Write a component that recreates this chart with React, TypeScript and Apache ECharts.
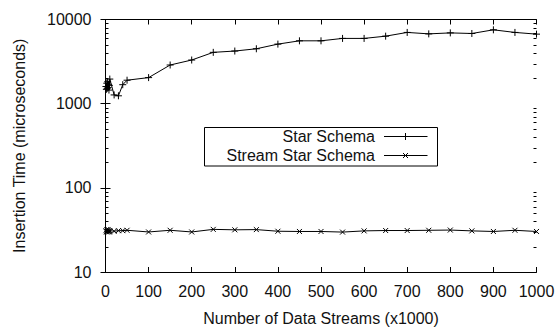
import React, { useEffect, useRef } from "react";
import * as echarts from "echarts";

const xValues = [1, 2, 3, 4, 5, 6, 7, 8, 9, 10, 20, 30, 40, 50, 100, 150, 200, 250, 300, 350, 400, 450, 500, 550, 600, 650, 700, 750, 800, 850, 900, 950, 1000];
const starSchema = [1600, 1480, 1750, 1520, 1820, 1560, 1700, 1450, 1650, 1960, 1270, 1240, 1680, 1900, 2040, 2880, 3300, 4070, 4220, 4490, 5100, 5580, 5580, 5960, 5960, 6340, 7020, 6750, 6930, 6820, 7540, 7020, 6700];
const streamStarSchema = [31, 30, 32, 30, 31, 32, 30, 31, 30, 31, 30.5, 31, 31, 31.3, 29.9, 31.3, 29.9, 32.1, 31.7, 31.9, 30.5, 30.3, 30.3, 29.8, 30.8, 31.1, 31.1, 31.3, 31.5, 30.8, 30.3, 31.3, 30.3];
const seriesNames = ["Star Schema", "Stream Star Schema"];
const minorTickValues = [20, 30, 40, 50, 60, 70, 80, 90, 200, 300, 400, 500, 600, 700, 800, 900, 2000, 3000, 4000, 5000, 6000, 7000, 8000, 9000];

const FONT = "'Liberation Sans', Arial, Helvetica, sans-serif";
const FS = 16;
const TXT = "#111";

const plusSymbol = "path://M0,5L10,5M5,0L5,10";
const crossSymbol = "path://M0,0L10,10M0,10L10,0";

export default function App() {
  const ref = useRef<HTMLDivElement>(null);
  useEffect(() => {
    if (!ref.current) return;
    const chart = echarts.init(ref.current, null, { renderer: "svg" });
    const axisLine = { show: true, lineStyle: { color: "#000", width: 1 } };
    const legendX = 204.5, legendY = 127.5, legendW = 233, legendH = 38.5;
    const row1 = 136, row2 = 155;
    const lx1 = 384, lx2 = 427.5, lmx = 405.5;
    const fmt = (v: number) => String(v);
    chart.setOption({
      animation: false,
      backgroundColor: "#fff",
      grid: { left: 105.5, right: 23.5, top: 19.5, bottom: 58.5 },
      xAxis: [
        {
          type: "value", min: 0, max: 1000, interval: 100, position: "bottom",
          name: "Number of Data Streams (x1000)", nameLocation: "middle", nameGap: 38,
          nameTextStyle: { fontFamily: FONT, fontSize: FS, color: TXT },
          axisLine, splitLine: { show: false },
          axisTick: { show: true, inside: true, length: 5, lineStyle: { color: "#000" } },
          axisLabel: { fontFamily: FONT, fontSize: FS, color: TXT, margin: 11, formatter: fmt },
        },
        {
          type: "value", min: 0, max: 1000, interval: 100, position: "top",
          axisLine, splitLine: { show: false },
          axisTick: { show: true, inside: true, length: 5, lineStyle: { color: "#000" } },
          axisLabel: { show: false },
        },
      ],
      yAxis: [
        {
          type: "log", logBase: 10, min: 10, max: 10000, position: "left",
          name: "Insertion Time (microseconds)", nameLocation: "middle", nameGap: 78,
          nameTextStyle: { fontFamily: FONT, fontSize: FS, color: TXT },
          axisLine, splitLine: { show: false },
          axisTick: { show: true, inside: true, length: 5, lineStyle: { color: "#000" } },
          axisLabel: { fontFamily: FONT, fontSize: FS, color: TXT, margin: 14, formatter: fmt },
        },
        {
          type: "log", logBase: 10, min: 10, max: 10000, position: "right",
          axisLine, splitLine: { show: false },
          axisTick: { show: true, inside: true, length: 5, lineStyle: { color: "#000" } },
          axisLabel: { show: false },
        },
      ],
      series: [
        {
          name: seriesNames[0], type: "line",
          data: xValues.map((x, i) => [x, starSchema[i]]),
          symbol: plusSymbol, symbolSize: 7, showAllSymbol: true,
          lineStyle: { color: "#000", width: 1 },
          itemStyle: { color: "#000", borderColor: "#000", borderWidth: 1 },
        },
        {
          name: seriesNames[1], type: "line",
          data: xValues.map((x, i) => [x, streamStarSchema[i]]),
          symbol: crossSymbol, symbolSize: 5, showAllSymbol: true,
          lineStyle: { color: "#000", width: 1 },
          itemStyle: { color: "#000", borderColor: "#000", borderWidth: 1 },
        },
        {
          type: "custom", silent: true, clip: false,
          data: minorTickValues.map((v) => [0, v]),
          encode: { x: 0, y: 1 },
          renderItem: (params: any, api: any) => {
            const p = api.coord([0, api.value(1)]);
            const cs = params.coordSys;
            const y = Math.round(p[1]) + 0.5;
            return {
              type: "group",
              children: [
                { type: "line", shape: { x1: cs.x, y1: y, x2: cs.x + 3, y2: y }, style: { stroke: "#000", lineWidth: 1 } },
                { type: "line", shape: { x1: cs.x + cs.width, y1: y, x2: cs.x + cs.width - 3, y2: y }, style: { stroke: "#000", lineWidth: 1 } },
              ],
            };
          },
        },
      ],
      graphic: [
        { type: "rect", shape: { x: legendX, y: legendY, width: legendW, height: legendH }, style: { fill: "#fff", stroke: "#000", lineWidth: 1 }, z: 10 },
        { type: "text", x: 375, y: row1, style: { text: seriesNames[0], align: "right", verticalAlign: "middle", font: `${FS}px ${FONT}`, fill: TXT }, z: 11 },
        { type: "text", x: 375, y: row2, style: { text: seriesNames[1], align: "right", verticalAlign: "middle", font: `${FS}px ${FONT}`, fill: TXT }, z: 11 },
        { type: "line", shape: { x1: lx1, y1: row1 + 0.5, x2: lx2, y2: row1 + 0.5 }, style: { stroke: "#000", lineWidth: 1 }, z: 11 },
        { type: "line", shape: { x1: lmx, y1: row1 - 3, x2: lmx, y2: row1 + 4 }, style: { stroke: "#000", lineWidth: 1 }, z: 11 },
        { type: "line", shape: { x1: lx1, y1: row2 + 0.5, x2: lx2, y2: row2 + 0.5 }, style: { stroke: "#000", lineWidth: 1 }, z: 11 },
        { type: "line", shape: { x1: lmx - 2.5, y1: row2 - 2, x2: lmx + 2.5, y2: row2 + 3 }, style: { stroke: "#000", lineWidth: 1 }, z: 11 },
        { type: "line", shape: { x1: lmx - 2.5, y1: row2 + 3, x2: lmx + 2.5, y2: row2 - 2 }, style: { stroke: "#000", lineWidth: 1 }, z: 11 },
      ],
    });
    return () => chart.dispose();
  }, []);
  return <div ref={ref} style={{ width: 560, height: 331, position: "absolute", left: 0, top: 0 }} />;
}
